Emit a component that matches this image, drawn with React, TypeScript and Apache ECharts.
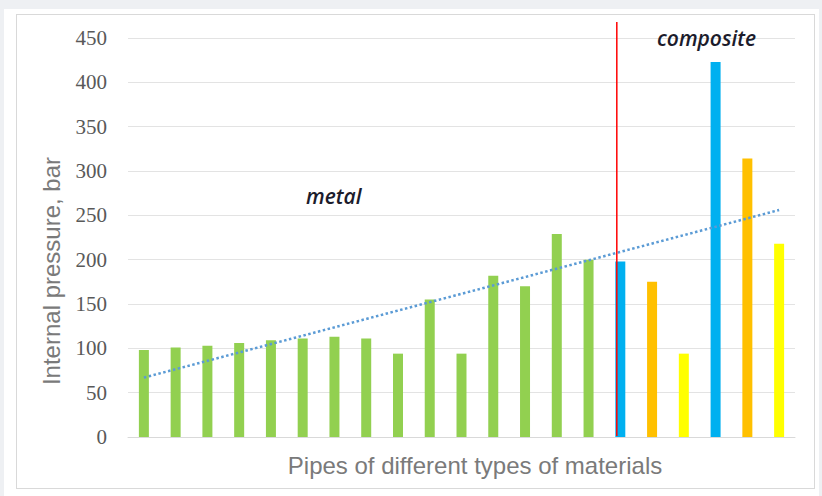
import React, { useEffect, useRef } from "react";
import * as echarts from "echarts";

const categories = [
  "P1", "P2", "P3", "P4", "P5", "P6", "P7", "P8", "P9", "P10", "P11",
  "P12", "P13", "P14", "P15", "P16", "P17", "P18", "P19", "P20", "P21",
];
const pressure = [
  98, 101, 103, 106, 109, 111, 113, 111, 94, 155, 94,
  182, 170, 229, 200, 198, 175, 94, 423, 314, 218,
];
const materialGroup = [
  "metal", "metal", "metal", "metal", "metal", "metal", "metal", "metal",
  "metal", "metal", "metal", "metal", "metal", "metal", "metal",
  "compositeA", "compositeB", "compositeC", "compositeA", "compositeB", "compositeC",
];
const trendEnds = [67, 256];
const yMin = 0;
const yMax = 450;
const yStep = 50;
const dividerIndex = 15;
const dividerTopValue = 468;

const groupColor: Record<string, string> = {
  metal: "#92d050",
  compositeA: "#00b0f0",
  compositeB: "#ffc000",
  compositeC: "#ffff00",
};

export default function App() {
  const ref = useRef<HTMLDivElement>(null);

  useEffect(() => {
    if (!ref.current) return;
    const chart = echarts.init(ref.current, null, { renderer: "svg" });
    const trendData = categories.map((_, i) =>
      i === 0 ? trendEnds[0] : i === categories.length - 1 ? trendEnds[1] : null
    );
    chart.setOption({
      animation: false,
      backgroundColor: "transparent",
      grid: { left: 128, right: 27, top: 38, bottom: 59 },
      xAxis: {
        type: "category",
        data: categories,
        axisLine: { show: true, lineStyle: { color: "#d9d9d9", width: 1 } },
        axisTick: { show: false },
        axisLabel: { show: false },
      },
      yAxis: {
        type: "value",
        min: yMin,
        max: yMax,
        interval: yStep,
        axisLine: { show: false },
        axisTick: { show: false },
        axisLabel: {
          margin: 21,
          color: "#595959",
          fontFamily: "Liberation Serif",
          fontSize: 21,
        },
        splitLine: { lineStyle: { color: "#e3e3e3", width: 1 } },
      },
      series: [
        {
          type: "bar",
          barWidth: 10,
          data: pressure.map((v, i) => ({
            value: v,
            itemStyle: { color: groupColor[materialGroup[i]] },
          })),
        },
        {
          type: "line",
          data: trendData,
          connectNulls: true,
          symbol: "none",
          lineStyle: { color: "#5b9bd5", width: 2.5, type: [2.5, 2.5] },
          z: 5,
        },
      ],
    });

    const xDiv = (chart.convertToPixel({ xAxisIndex: 0 }, categories[dividerIndex]) as number) - 3.5;
    const yTop = chart.convertToPixel({ yAxisIndex: 0 }, dividerTopValue) as number;
    const yBottom = chart.convertToPixel({ yAxisIndex: 0 }, 0) as number;

    chart.setOption({
      graphic: [
        {
          type: "line",
          shape: { x1: xDiv, y1: yTop, x2: xDiv, y2: yBottom - 1 },
          style: { stroke: "#ff0000", lineWidth: 1.5 },
          z: 10,
        },
        {
          type: "text",
          x: 306,
          y: 196,
          style: {
            text: "metal",
            fill: "#1c1c2c",
            font: "italic 600 21px 'Open Sans'",
            verticalAlign: "middle",
            align: "left",
          },
          z: 10,
        },
        {
          type: "text",
          x: 657,
          y: 38,
          style: {
            text: "composite",
            fill: "#1c1c2c",
            font: "italic 600 21px 'Open Sans'",
            verticalAlign: "middle",
            align: "left",
          },
          z: 10,
        },
        {
          type: "text",
          x: 475,
          y: 465,
          style: {
            text: "Pipes of different types of materials",
            fill: "#7a7a7a",
            font: "24px 'Liberation Sans'",
            verticalAlign: "middle",
            align: "center",
          },
        },
        {
          type: "text",
          x: 51,
          y: 271,
          rotation: Math.PI / 2,
          style: {
            text: "Internal pressure, bar",
            fill: "#7a7a7a",
            font: "24px 'Liberation Sans'",
            verticalAlign: "middle",
            align: "center",
          },
        },
      ],
    });

    return () => chart.dispose();
  }, []);

  return (
    <div
      style={{
        position: "fixed",
        left: 0,
        top: 0,
        width: 822,
        height: 496,
        background: "#eef0f3",
        overflow: "hidden",
      }}
    >
      <div
        style={{
          position: "absolute",
          left: 4,
          top: 9,
          width: 815,
          height: 487,
          background: "#ffffff",
        }}
      />
      <div
        style={{
          position: "absolute",
          left: 16,
          top: 14,
          width: 797,
          height: 473,
          border: "1px solid #d9d9d9",
        }}
      />
      <div
        ref={ref}
        style={{ position: "absolute", left: 0, top: 0, width: 822, height: 496 }}
      />
    </div>
  );
}
